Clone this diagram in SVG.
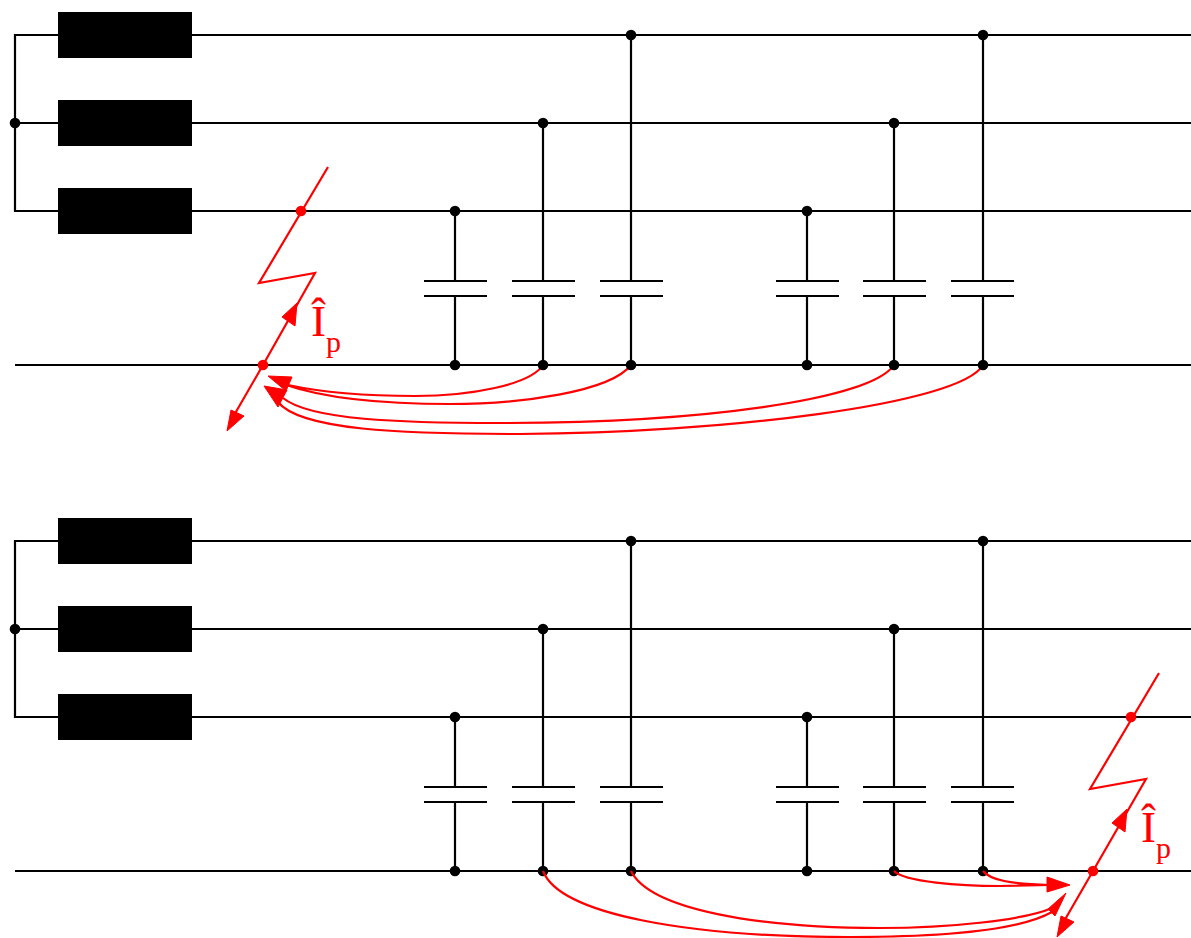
<svg xmlns="http://www.w3.org/2000/svg" width="1191" height="938" viewBox="0 0 1191 938">
<style>
.w{fill:none;stroke:#000;stroke-width:2.2}
.b{fill:#000;stroke:none}
.r{fill:none;stroke:#f00;stroke-width:2.2}
.rf{fill:#f00;stroke:none}
.h{fill:#f00;stroke:#f00;stroke-width:1}
.t{font-family:"Liberation Serif",serif;fill:#f00}
</style>
<defs>
<g id="cap"><path class="w" d="M0 0V70M-31 70H32M-31 85H32M0 85V154"/></g>
</defs>
<g id="connectors">
<path class="w" d="M58 35H15V211H58M15 123H58M192 35H1191M192 123H1191M192 211H1191M15 365H1191"/>
<path class="w" d="M631 35V281M631 296V365M543 123V281M543 296V365M894 123V281M894 296V365M983 35V281M983 296V365"/>
<path class="w" d="M58 541H15V717H58M15 629H58M192 541H1191M192 629H1191M192 717H1191M15 871H1191"/>
<path class="w" d="M631 541V787M631 802V871M543 629V787M543 802V871M894 629V787M894 802V871M983 541V787M983 802V871"/>
<path class="r" d="M328 167L259 283L315 273L263 365L233 417"/>
<path class="r" d="M543 365C530 385 470 396 415 396C370 396 325 393 288 385M631 365C610 392 520 404 450 404C390 404 330 400 286 385M894 365C870 400 700 423 500 423C400 423 310 420 283 398M983 365C960 405 720 433 520 434C400 434 300 430 278 402"/>
</g>
<g id="source-a1"><rect class="b" x="58" y="12" width="134" height="46"/></g>
<g id="source-a2"><rect class="b" x="58" y="100" width="134" height="46"/></g>
<g id="source-a3"><rect class="b" x="58" y="188" width="134" height="46"/></g>
<g id="source-b1"><rect class="b" x="58" y="518" width="134" height="46"/></g>
<g id="source-b2"><rect class="b" x="58" y="606" width="134" height="46"/></g>
<g id="source-b3"><rect class="b" x="58" y="694" width="134" height="46"/></g>
<g id="capacitors-a">
<use href="#cap" x="455" y="211"/>
<path class="w" d="M512 281H575M512 296H575M600 281H663M600 296H663M863 281H926M863 296H926M951 281H1014M951 296H1014"/>
<use href="#cap" x="807" y="211"/>
</g>
<g id="capacitors-b">
<use href="#cap" x="455" y="717"/>
<path class="w" d="M512 787H575M512 802H575M600 787H663M600 802H663M863 787H926M863 802H926M951 787H1014M951 802H1014"/>
<use href="#cap" x="807" y="717"/>
</g>
<g id="junctions" class="b">
<circle cx="15" cy="123" r="5.3"/><circle cx="631" cy="35" r="5.3"/><circle cx="983" cy="35" r="5.3"/><circle cx="543" cy="123" r="5.3"/><circle cx="894" cy="123" r="5.3"/><circle cx="455" cy="211" r="5.3"/><circle cx="807" cy="211" r="5.3"/>
<circle cx="455" cy="365" r="5.3"/><circle cx="543" cy="365" r="5.3"/><circle cx="631" cy="365" r="5.3"/><circle cx="807" cy="365" r="5.3"/><circle cx="894" cy="365" r="5.3"/><circle cx="983" cy="365" r="5.3"/>
<circle cx="15" cy="629" r="5.3"/><circle cx="631" cy="541" r="5.3"/><circle cx="983" cy="541" r="5.3"/><circle cx="543" cy="629" r="5.3"/><circle cx="894" cy="629" r="5.3"/><circle cx="455" cy="717" r="5.3"/><circle cx="807" cy="717" r="5.3"/>
<circle cx="455" cy="871" r="5.3"/><circle cx="543" cy="871" r="5.3"/><circle cx="631" cy="871" r="5.3"/><circle cx="807" cy="871" r="5.3"/><circle cx="894" cy="871" r="5.3"/><circle cx="983" cy="871" r="5.3"/>
</g>
<g id="connectors-red">
<path class="r" d="M1159 673L1090 789L1146 779L1093 871L1063 923"/>
<path class="r" d="M894 871C905 882 960 886 1000 886L1050 885M983 871C990 880 1010 884 1050 885M543 871C560 915 690 937 850 937C950 937 1020 930 1052 912M631 871C650 910 760 928 880 928C950 928 1025 920 1052 908"/>
</g>
<g class="h" id="arrowheads">
<path d="M297 303L282 317L295 326Z"/>
<path d="M227 431L231 410L244 416Z"/>
<path d="M268 376L292 377L286 391Z"/>
<path d="M264 386L287 390L278 407Z"/>
<path d="M1127 809L1112 823L1125 832Z"/>
<path d="M1057 937L1061 916L1074 922Z"/>
<path d="M1070 885L1047 877V892Z"/>
<path d="M1066 893L1048 909L1055 916Z"/>
</g>
<g id="fault-a">
<circle class="rf" cx="301" cy="211" r="5.3"/><circle class="rf" cx="263" cy="365" r="5.3"/>
<text class="t" x="311" y="336" font-size="45">Î</text><text class="t" x="326" y="352" font-size="30">p</text>
</g>
<g id="fault-b">
<circle class="rf" cx="1131" cy="717" r="5.3"/><circle class="rf" cx="1093" cy="871" r="5.3"/>
<text class="t" x="1141" y="842" font-size="45">Î</text><text class="t" x="1156" y="858" font-size="30">p</text>
</g>
</svg>
